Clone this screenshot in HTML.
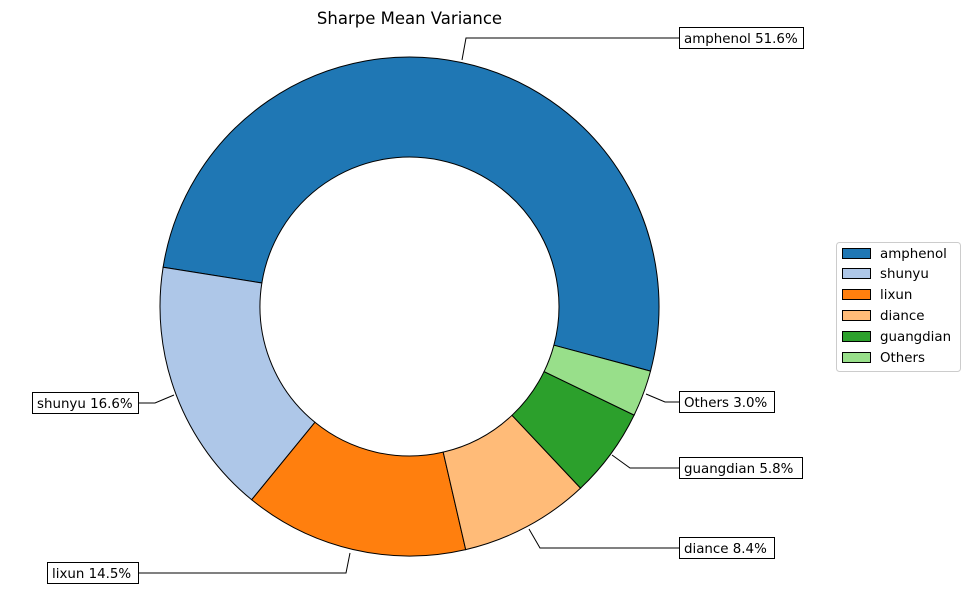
<!DOCTYPE html>
<html><head><meta charset="utf-8"><style>
body{margin:0;background:#fff;}
svg{display:block;font-family:"DejaVu Sans","Liberation Sans",sans-serif;}
</style></head><body>
<svg id="s" width="973" height="597" xmlns="http://www.w3.org/2000/svg">
<rect width="973" height="597" fill="#fff"/>
<g id="w"></g>
<text x="409.5" y="24" font-size="16.5" text-anchor="middle">Sharpe Mean Variance</text>
<g fill="none" stroke="#000" stroke-width="1">
<polyline points="462,60 466,38 680,38"/>
<polyline points="174,395 155,403 138,403"/>
<polyline points="350,553 346,573 138,573"/>
<polyline points="529,529 540,548 680,548"/>
<polyline points="612,455 630,468 680,468"/>
<polyline points="646,394 665,402 680,402"/>
</g>
<g font-size="13.4" stroke-width="1">
<rect x="679.5" y="27.5" width="124" height="21" fill="#fff" stroke="#000"/><text x="684" y="43">amphenol 51.6%</text>
<rect x="32.5" y="392.5" width="106" height="21" fill="#fff" stroke="#000"/><text x="37" y="408">shunyu 16.6%</text>
<rect x="47.5" y="562.5" width="91" height="21" fill="#fff" stroke="#000"/><text x="52" y="578">lixun 14.5%</text>
<rect x="679.5" y="537.5" width="95" height="21" fill="#fff" stroke="#000"/><text x="684" y="553">diance 8.4%</text>
<rect x="679.5" y="457.5" width="123" height="21" fill="#fff" stroke="#000"/><text x="684" y="473">guangdian 5.8%</text>
<rect x="679.5" y="391.5" width="95" height="21" fill="#fff" stroke="#000"/><text x="684" y="407">Others 3.0%</text>
</g>
<rect x="836.5" y="242.5" width="124" height="129" rx="3" fill="#fff" stroke="#ccc"/>
<g font-size="13" stroke="#000" stroke-width="1">
<rect x="842.5" y="248.5" width="28" height="10" fill="#1f77b4"/>
<rect x="842.5" y="268.5" width="28" height="10" fill="#aec7e8"/>
<rect x="842.5" y="289.5" width="28" height="10" fill="#ff7f0e"/>
<rect x="842.5" y="310.5" width="28" height="10" fill="#ffbb78"/>
<rect x="842.5" y="331.5" width="28" height="10" fill="#2ca02c"/>
<rect x="842.5" y="352.5" width="28" height="10" fill="#98df8a"/>
</g>
<g font-size="13.4">
<text x="880" y="258">amphenol</text>
<text x="880" y="278">shunyu</text>
<text x="880" y="299">lixun</text>
<text x="880" y="320">diance</text>
<text x="880" y="341">guangdian</text>
<text x="880" y="362">Others</text>
</g>
</svg>
<script>
var cx=409.5,cy=306.5,R=249.5,r=149.5;
var v=[51.6,16.6,14.5,8.4,5.8,3.0],c=["#1f77b4","#aec7e8","#ff7f0e","#ffbb78","#2ca02c","#98df8a"];
var tot=v.reduce((a,b)=>a+b),a=-15,g=document.getElementById('w'),h='';
function p(rad,d){var t=d*Math.PI/180;return (cx+rad*Math.cos(t)).toFixed(2)+','+(cy-rad*Math.sin(t)).toFixed(2);}
for(var i=0;i<v.length;i++){var s=v[i]/tot*360,e=a+s,l=s>180?1:0;
h+='<path d="M'+p(R,a)+' A'+R+','+R+' 0 '+l+' 0 '+p(R,e)+' L'+p(r,e)+' A'+r+','+r+' 0 '+l+' 1 '+p(r,a)+' Z" fill="'+c[i]+'" stroke="#000" stroke-width="1"/>';a=e;}
g.innerHTML=h;
</script>
</body></html>
